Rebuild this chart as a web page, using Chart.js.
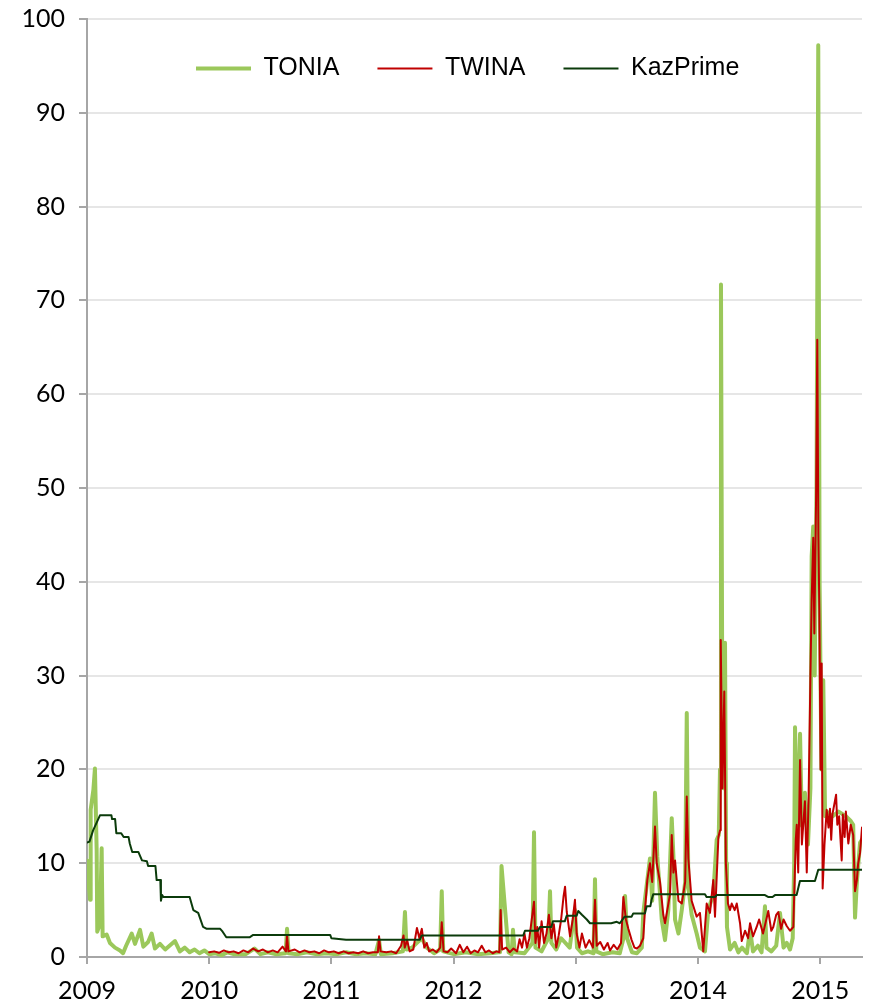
<!DOCTYPE html>
<html>
<head>
<meta charset="utf-8">
<script src="https://cdn.jsdelivr.net/npm/chart.js@4.4.1/dist/chart.umd.min.js"></script>
<style>
  html, body { margin: 0; padding: 0; background: #fff; }
  #wrap { width: 873px; height: 1005px; }
</style>
</head>
<body>
<div id="wrap"><canvas id="rateChart" width="873" height="1005"></canvas></div>
<script>
// x values are decimal years
const tickYears = [2009, 2010, 2011, 2012, 2013, 2014, 2015];
const yTicks = [0, 10, 20, 30, 40, 50, 60, 70, 80, 90, 100];

const toniaYears = [
  2009.000, 2009.012, 2009.025, 2009.030, 2009.052, 2009.065, 2009.079, 2009.084, 2009.106, 2009.120,
  2009.128, 2009.161, 2009.188, 2009.229, 2009.270, 2009.295, 2009.320, 2009.366, 2009.393, 2009.434,
  2009.461, 2009.500, 2009.529, 2009.556, 2009.597, 2009.640, 2009.720, 2009.760, 2009.800, 2009.840,
  2009.880, 2009.920, 2009.960, 2010.000, 2010.050, 2010.100, 2010.150, 2010.200, 2010.300, 2010.370,
  2010.420, 2010.480, 2010.550, 2010.625, 2010.637, 2010.650, 2010.720, 2010.800, 2010.880, 2010.960,
  2011.040, 2011.120, 2011.200, 2011.280, 2011.360, 2011.390, 2011.405, 2011.500, 2011.585, 2011.602,
  2011.615, 2011.660, 2011.700, 2011.740, 2011.780, 2011.840, 2011.890, 2011.903, 2011.915, 2012.000,
  2012.100, 2012.200, 2012.300, 2012.370, 2012.380, 2012.392, 2012.450, 2012.475, 2012.486, 2012.500,
  2012.580, 2012.645, 2012.658, 2012.670, 2012.720, 2012.775, 2012.789, 2012.800, 2012.840, 2012.880,
  2012.950, 2012.970, 2012.993, 2013.010, 2013.050, 2013.100, 2013.145, 2013.157, 2013.168, 2013.220,
  2013.300, 2013.360, 2013.390, 2013.403, 2013.420, 2013.460, 2013.500, 2013.540, 2013.552, 2013.607,
  2013.625, 2013.648, 2013.667, 2013.689, 2013.703, 2013.730, 2013.757, 2013.785, 2013.799, 2013.812,
  2013.840, 2013.867, 2013.895, 2013.908, 2013.921, 2013.948, 2013.989, 2014.016, 2014.057, 2014.084,
  2014.125, 2014.153, 2014.170, 2014.180, 2014.188, 2014.198, 2014.208, 2014.221, 2014.230, 2014.237,
  2014.262, 2014.300, 2014.330, 2014.360, 2014.400, 2014.426, 2014.450, 2014.490, 2014.520, 2014.548,
  2014.560, 2014.600, 2014.640, 2014.671, 2014.700, 2014.726, 2014.753, 2014.775, 2014.787, 2014.794,
  2014.810, 2014.835, 2014.850, 2014.875, 2014.900, 2014.920, 2014.930, 2014.943, 2014.955, 2014.970,
  2014.984, 2014.995, 2015.010, 2015.025, 2015.040, 2015.053, 2015.100, 2015.150, 2015.210, 2015.250,
  2015.270, 2015.285, 2015.300, 2015.326, 2015.342
];
const toniaValues = [
  10.3, 8.0, 6.1, 15.7, 17.8, 20.1, 11.4, 2.7, 3.5, 11.6,
  2.2, 2.4, 1.5, 1.0, 0.7, 0.4, 1.2, 2.5, 1.4, 2.9,
  1.1, 1.6, 2.5, 0.9, 1.4, 0.8, 1.7, 0.6, 1.0, 0.5,
  0.8, 0.4, 0.7, 0.3, 0.4, 0.2, 0.5, 0.3, 0.3, 0.9,
  0.3, 0.5, 0.3, 0.4, 3.0, 0.4, 0.3, 0.5, 0.3, 0.4,
  0.3, 0.5, 0.3, 0.4, 0.3, 1.8, 0.3, 0.4, 0.6, 4.8,
  0.8, 1.0, 1.5, 2.0, 1.0, 0.4, 0.8, 7.0, 0.6, 0.3,
  0.5, 0.3, 0.4, 0.5, 0.5, 9.7, 0.5, 0.3, 2.9, 0.5,
  0.4, 1.5, 13.3, 1.0, 0.6, 2.0, 7.0, 1.5, 0.8, 2.0,
  1.0, 2.9, 5.0, 1.0, 0.4, 0.6, 0.4, 8.3, 0.6, 0.3,
  0.5, 0.4, 2.0, 6.5, 2.0, 0.5, 0.4, 1.0, 4.7, 10.5,
  6.0, 17.5, 10.7, 6.7, 4.0, 1.8, 5.0, 14.8, 10.7, 4.0,
  2.5, 5.0, 8.0, 26.0, 7.5, 4.5, 2.5, 1.0, 0.6, 5.0,
  6.7, 12.5, 13.0, 20.0, 71.7, 30.0, 18.0, 33.5, 10.0, 3.2,
  0.8, 1.5, 0.5, 1.0, 0.4, 2.9, 0.6, 1.2, 0.5, 5.4,
  1.0, 0.6, 1.2, 4.7, 1.0, 1.5, 0.8, 2.0, 10.0, 24.5,
  12.0, 23.8, 14.0, 17.5, 12.0, 18.0, 42.7, 45.9, 30.0, 50.0,
  97.2, 40.0, 20.0, 29.5, 15.0, 15.5, 15.0, 15.5, 15.0, 14.5,
  14.1, 4.2, 8.0, 12.2, 12.5
];

const twinaYears = [
  2010.000, 2010.040, 2010.080, 2010.120, 2010.160, 2010.200, 2010.240, 2010.280, 2010.320, 2010.360,
  2010.400, 2010.440, 2010.480, 2010.520, 2010.560, 2010.600, 2010.628, 2010.637, 2010.648, 2010.700,
  2010.740, 2010.780, 2010.820, 2010.860, 2010.900, 2010.940, 2010.980, 2011.020, 2011.060, 2011.100,
  2011.140, 2011.180, 2011.220, 2011.260, 2011.300, 2011.340, 2011.380, 2011.390, 2011.402, 2011.450,
  2011.490, 2011.530, 2011.570, 2011.590, 2011.600, 2011.620, 2011.640, 2011.670, 2011.700, 2011.720,
  2011.740, 2011.760, 2011.780, 2011.800, 2011.830, 2011.860, 2011.890, 2011.903, 2011.918, 2011.950,
  2011.980, 2012.020, 2012.050, 2012.080, 2012.110, 2012.140, 2012.170, 2012.200, 2012.230, 2012.260,
  2012.290, 2012.320, 2012.350, 2012.375, 2012.385, 2012.397, 2012.430, 2012.460, 2012.490, 2012.520,
  2012.540, 2012.560, 2012.580, 2012.600, 2012.620, 2012.658, 2012.670, 2012.685, 2012.700, 2012.720,
  2012.740, 2012.760, 2012.780, 2012.800, 2012.820, 2012.840, 2012.860, 2012.880, 2012.900, 2012.912,
  2012.926, 2012.953, 2012.975, 2012.993, 2013.007, 2013.030, 2013.050, 2013.080, 2013.110, 2013.140,
  2013.157, 2013.171, 2013.200, 2013.230, 2013.260, 2013.280, 2013.310, 2013.340, 2013.370, 2013.389,
  2013.410, 2013.430, 2013.457, 2013.480, 2013.500, 2013.525, 2013.552, 2013.566, 2013.585, 2013.607,
  2013.625, 2013.648, 2013.662, 2013.689, 2013.716, 2013.730, 2013.771, 2013.785, 2013.799, 2013.812,
  2013.840, 2013.867, 2013.895, 2013.908, 2013.921, 2013.948, 2013.989, 2014.016, 2014.043, 2014.071,
  2014.098, 2014.125, 2014.139, 2014.167, 2014.180, 2014.186, 2014.200, 2014.215, 2014.228, 2014.245,
  2014.262, 2014.276, 2014.300, 2014.317, 2014.344, 2014.358, 2014.385, 2014.410, 2014.426, 2014.450,
  2014.480, 2014.500, 2014.532, 2014.550, 2014.575, 2014.600, 2014.616, 2014.640, 2014.657, 2014.680,
  2014.700, 2014.726, 2014.753, 2014.780, 2014.800, 2014.808, 2014.820, 2014.835, 2014.850, 2014.875,
  2014.890, 2014.905, 2014.920, 2014.930, 2014.943, 2014.952, 2014.966, 2014.976, 2014.985, 2014.993,
  2015.003, 2015.012, 2015.020, 2015.035, 2015.053, 2015.068, 2015.080, 2015.090, 2015.100, 2015.130,
  2015.140, 2015.155, 2015.176, 2015.185, 2015.200, 2015.210, 2015.230, 2015.250, 2015.270, 2015.285,
  2015.300, 2015.310, 2015.326, 2015.342
];
const twinaValues = [
  0.5, 0.6, 0.45, 0.7, 0.5, 0.6, 0.4, 0.7, 0.5, 0.9,
  0.6, 0.8, 0.5, 0.7, 0.5, 1.1, 0.6, 2.3, 0.6, 0.8,
  0.5, 0.7, 0.5, 0.6, 0.4, 0.7, 0.5, 0.6, 0.4, 0.6,
  0.4, 0.5, 0.4, 0.6, 0.4, 0.5, 0.5, 2.2, 0.6, 0.5,
  0.6, 0.4, 1.2, 2.3, 1.0, 1.8, 0.6, 0.8, 3.1, 2.0,
  3.0, 1.0, 1.5, 0.6, 0.8, 0.5, 1.0, 3.7, 0.6, 0.5,
  0.9, 0.4, 1.3, 0.5, 1.1, 0.4, 0.7, 0.5, 1.2, 0.5,
  0.7, 0.4, 0.6, 0.5, 5.0, 0.8, 1.0, 0.5, 0.9, 0.6,
  1.9, 1.0, 2.5, 1.0, 2.0, 5.9, 1.5, 3.2, 1.0, 3.8,
  1.5, 2.5, 4.5, 2.0, 3.5, 1.0, 2.3, 4.0, 6.5, 7.5,
  4.8, 2.2, 4.0, 6.1, 2.5, 1.0, 2.5, 1.0, 1.8, 1.0,
  6.1, 1.2, 1.6, 0.8, 1.5, 0.7, 1.3, 0.8, 1.5, 6.4,
  4.0, 3.0, 1.8, 1.0, 0.9, 1.2, 2.0, 5.0, 8.2, 10.0,
  8.0, 13.9, 10.0, 8.0, 4.5, 3.6, 6.7, 13.0, 9.0, 10.3,
  6.0, 5.7, 8.0, 17.1, 10.5, 6.0, 4.3, 4.7, 0.6, 5.7,
  4.7, 8.2, 4.3, 12.8, 13.5, 33.8, 18.0, 28.3, 10.0, 5.7,
  5.0, 5.7, 5.0, 5.7, 3.6, 1.7, 2.8, 2.0, 3.6, 2.2,
  3.2, 4.0, 2.5, 3.5, 4.9, 2.8, 3.2, 4.5, 4.8, 3.0,
  4.0, 3.3, 2.8, 3.2, 12.5, 14.1, 9.0, 21.0, 12.0, 16.6,
  9.0, 17.0, 30.0, 38.0, 44.7, 34.5, 48.7, 65.8, 45.0, 37.0,
  20.0, 31.3, 7.3, 12.0, 15.7, 13.8, 15.8, 12.5, 15.2, 17.3,
  14.1, 15.0, 10.3, 15.2, 12.8, 15.5, 12.1, 14.1, 13.0, 7.0,
  8.2, 9.9, 11.1, 13.8
];

const kazYears = [
  2009.000, 2009.020, 2009.050, 2009.106, 2009.200, 2009.205, 2009.230, 2009.240, 2009.280, 2009.300,
  2009.340, 2009.350, 2009.370, 2009.420, 2009.450, 2009.490, 2009.500, 2009.560, 2009.570, 2009.600,
  2009.605, 2009.615, 2009.625, 2009.840, 2009.855, 2009.870, 2009.910, 2009.950, 2009.980, 2010.090,
  2010.110, 2010.140, 2010.330, 2010.360, 2010.990, 2011.000, 2011.120, 2011.725, 2011.739, 2012.570,
  2012.584, 2012.690, 2012.707, 2012.800, 2012.813, 2012.910, 2012.925, 2013.007, 2013.020, 2013.050,
  2013.090, 2013.116, 2013.290, 2013.335, 2013.360, 2013.400, 2013.457, 2013.470, 2013.566, 2013.580,
  2013.610, 2013.620, 2013.634, 2014.057, 2014.070, 2014.139, 2014.153, 2014.548, 2014.573, 2014.610,
  2014.630, 2014.807, 2014.834, 2014.957, 2014.984, 2015.342
];
const kazValues = [
  12.2, 12.3, 13.5, 15.1, 15.1, 14.7, 14.7, 13.2, 13.2, 12.8,
  12.8, 12.1, 11.2, 11.2, 10.3, 10.2, 9.7, 9.7, 8.2, 8.2,
  6.0, 6.6, 6.4, 6.4, 5.7, 5.0, 4.7, 3.2, 3.0, 3.0,
  2.7, 2.1, 2.1, 2.35, 2.35, 2.0, 1.85, 1.85, 2.3, 2.3,
  2.8, 2.8, 3.2, 3.2, 3.8, 3.8, 4.4, 4.4, 4.9, 4.5,
  4.0, 3.6, 3.6, 3.75, 3.6, 4.3, 4.3, 4.65, 4.65, 5.4,
  5.4, 6.1, 6.7, 6.7, 6.4, 6.4, 6.6, 6.6, 6.4, 6.4,
  6.6, 6.6, 8.1, 8.1, 9.3, 9.3
];

function toPoints(xs, ys) {
  return xs.map((x, i) => ({ x: x, y: ys[i] }));
}

const axisGrey = '#a6a6a6';
const tickFont = { family: 'Lato, "Open Sans", sans-serif', size: 25 };

// legend sits inside the plot, so it takes no room in the layout
const legendInside = {
  id: 'legendInside',
  beforeLayout(chart) {
    const lg = chart.legend;
    if (lg && !lg._patched) {
      const fit = lg.fit;
      lg.fit = function () { fit.call(this); this.height = 0; };
      lg._patched = true;
    }
  },
  afterLayout(chart) {
    const lg = chart.legend;
    if (!lg) return;
    const w = lg.right - lg.left;
    lg.left = 158;
    lg.right = 158 + w;
    lg.top = 18;
    lg.bottom = 120;
  }
};

const ctx = document.getElementById('rateChart').getContext('2d');
const chart = new Chart(ctx, {
  type: 'line',
  data: {
    datasets: [
      {
        label: 'TONIA',
        data: toPoints(toniaYears, toniaValues),
        borderColor: '#9bc85b',
        backgroundColor: '#9bc85b',
        borderWidth: 4,
        order: 3
      },
      {
        label: 'TWINA',
        data: toPoints(twinaYears, twinaValues),
        borderColor: '#c00000',
        backgroundColor: '#c00000',
        borderWidth: 2,
        order: 2
      },
      {
        label: 'KazPrime',
        data: toPoints(kazYears, kazValues),
        borderColor: '#0b3b0b',
        backgroundColor: '#0b3b0b',
        borderWidth: 2,
        order: 1
      }
    ]
  },
  plugins: [legendInside],
  options: {
    responsive: false,
    animation: false,
    events: [],
    elements: {
      point: { radius: 0 },
      line: { tension: 0, borderJoinStyle: 'round', borderCapStyle: 'round' }
    },
    layout: { padding: { left: 0, right: 11, top: 19, bottom: 0 } },
    scales: {
      x: {
        type: 'linear',
        min: 2009,
        max: 2015.342,
        afterBuildTicks: (scale) => { scale.ticks = tickYears.map(v => ({ value: v })); },
        afterFit: (scale) => {
          scale.height = 48;
          scale.paddingLeft = 0;
          scale.paddingRight = 0;
        },
        ticks: {
          color: '#000',
          font: tickFont,
          padding: 12,
          maxRotation: 0,
          autoSkip: false,
          callback: (v) => String(v)
        },
        grid: { drawOnChartArea: false, color: axisGrey, tickLength: 7, lineWidth: 2 },
        border: { color: axisGrey, width: 2 }
      },
      y: {
        min: 0,
        max: 100,
        afterBuildTicks: (scale) => { scale.ticks = yTicks.map(v => ({ value: v })); },
        afterFit: (scale) => {
          scale.width = 87;
          scale.paddingTop = 0;
          scale.paddingBottom = 0;
        },
        ticks: { color: '#000', font: tickFont, padding: 14 },
        grid: { color: '#e6e6e6', tickColor: axisGrey, tickLength: 8, lineWidth: 2 },
        border: { color: axisGrey, width: 2 }
      }
    },
    plugins: {
      tooltip: { enabled: false },
      legend: {
        position: 'top',
        align: 'start',
        labels: {
          usePointStyle: true,
          pointStyle: 'line',
          pointStyleWidth: 55,
          padding: 38,
          color: '#000',
          font: { family: '"Liberation Sans", Arial, sans-serif', size: 25 },
          sort: (a, b) => a.datasetIndex - b.datasetIndex
        }
      }
    }
  }
});
</script>
</body>
</html>
